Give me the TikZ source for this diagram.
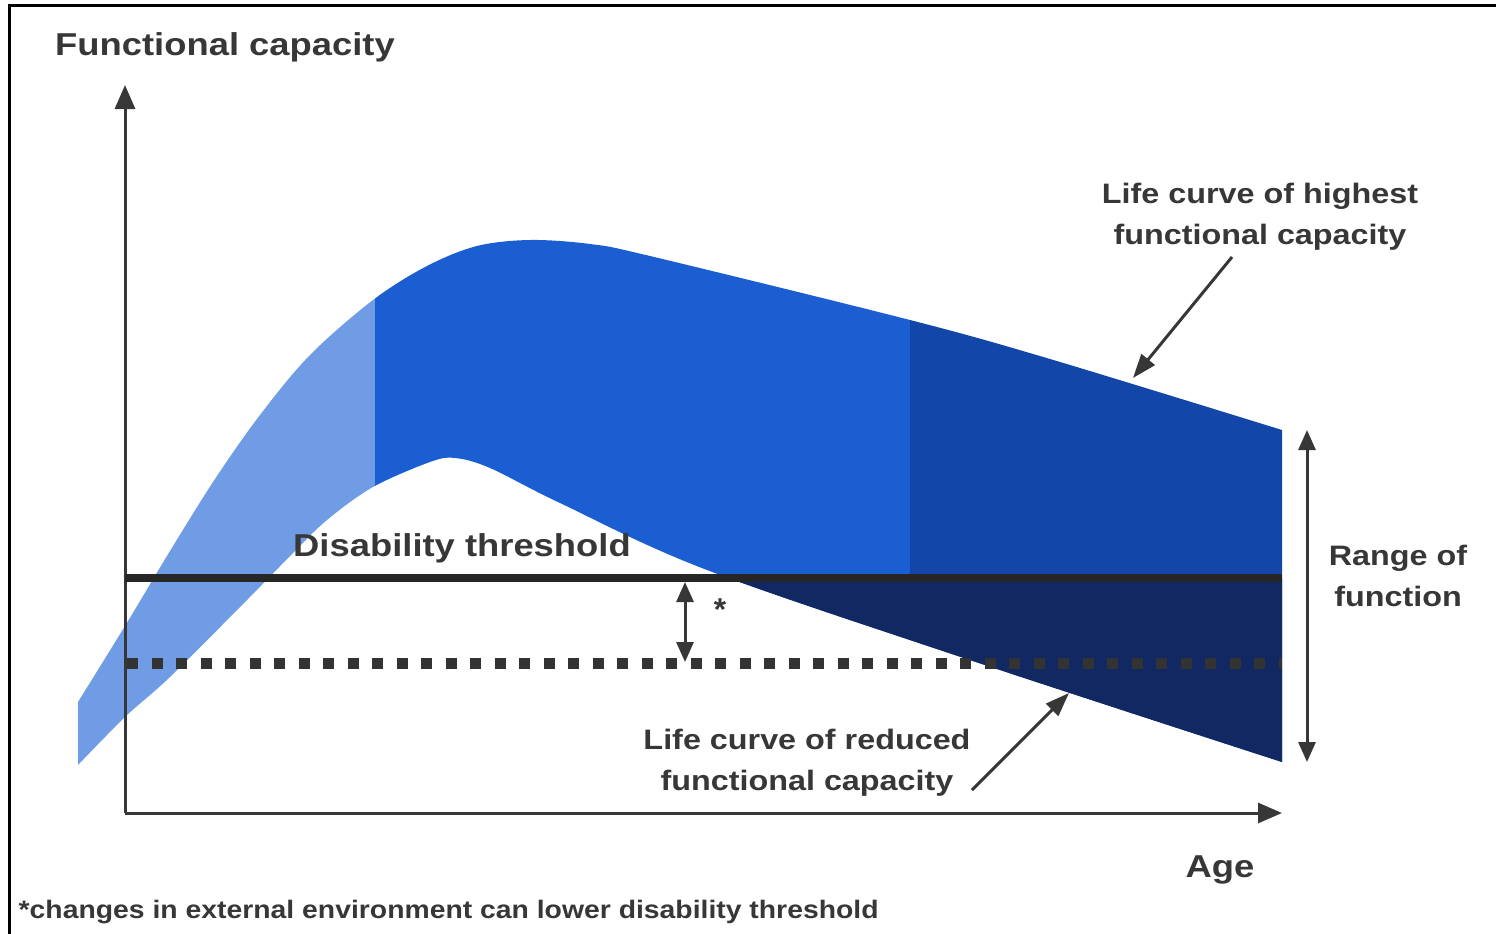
\documentclass[tikz,border=0pt]{standalone}
\usepackage{graphicx}
\usepackage{fontspec}
\setmainfont{Liberation Sans}
\usetikzlibrary{arrows.meta}

\newlength{\du}
\setlength{\du}{0.1mm}
\newcommand{\wide}[1]{\scalebox{1.15}[1]{#1}}

\definecolor{lightband}{RGB}{112,156,230}
\definecolor{midband}{RGB}{26,94,210}
\definecolor{darkband}{RGB}{18,70,168}
\definecolor{navyband}{RGB}{18,40,98}
\definecolor{inkgray}{RGB}{55,55,55}

\tikzset{
  axisline/.style={line width=3\du, draw=inkgray, -{Triangle[length=2.4mm,width=2mm]}},
  pointer/.style={line width=3\du, draw=inkgray, -{Triangle[length=2.4mm,width=1.7mm]}},
  spanline/.style={line width=3\du, draw=inkgray, {Triangle[length=2mm,width=1.7mm]}-{Triangle[length=2mm,width=1.7mm]}},
  bigtext/.style={font=\fontsize{9}{11}\selectfont\bfseries, text=inkgray, inner sep=0pt},
  labeltext/.style={font=\fontsize{8}{11.7}\selectfont\bfseries, text=inkgray, align=center, inner sep=0pt},
  notetext/.style={font=\fontsize{7.2}{9}\selectfont\bfseries, text=inkgray, inner sep=0pt},
}

% outline of the capacity band
\newcommand{\bandpath}{plot[smooth, tension=0.55] coordinates {(78\du,702\du) (125\du,626\du) (170\du,551\du) (215\du,479\du) (260\du,415\du) (310\du,355\du) (373\du,300\du) (427\du,266\du) (477\du,246\du) (530\du,240\du) (590\du,244\du) (650\du,256\du) (910\du,320\du) (1050\du,359\du) (1282\du,430\du)}
  -- plot[smooth, tension=0.55] coordinates {(1282\du,762\du) (979\du,663\du) (707\du,570\du) (560\du,503\du) (490\du,468\du) (455\du,458\du) (430\du,462\du) (373\du,487\du) (327\du,520\du) (293\du,553\du) (247\du,600\du) (170\du,677\du) (125\du,717\du) (78\du,765\du)} -- cycle}

\begin{document}
\begin{tikzpicture}
\pgftransformxscale{1.000000}
\pgftransformyscale{-1.000000}
\useasboundingbox (0\du,0\du) rectangle (1496\du,934\du);
\draw[line width=3\du, black] (9\du,934\du) -- (9\du,5\du) -- (1496\du,5\du);

% band, one colour per age stretch
\begin{scope}
\clip (0\du,0\du) rectangle (375\du,934\du);
\fill[lightband] \bandpath;
\end{scope}
\begin{scope}
\clip (375\du,0\du) rectangle (910\du,934\du);
\fill[midband] \bandpath;
\end{scope}
\begin{scope}
\clip (910\du,0\du) rectangle (1496\du,934\du);
\fill[darkband] \bandpath;
\end{scope}
\begin{scope}
\clip (375\du,578\du) rectangle (1496\du,934\du);
\fill[navyband] \bandpath;
\end{scope}

\coordinate (O) at (125\du,813\du);
\coordinate (ytop) at (125\du,85\du);
\coordinate (xend) at (1282\du,813\du);
\draw[axisline] (O) -- (ytop);
\draw[axisline] (O) -- (xend);

\coordinate (thrL) at (125\du,578\du);
\coordinate (thrR) at (1282\du,578\du);
\draw[line width=8\du, draw=black!85] (thrL) -- (thrR);
\coordinate (lowL) at (127\du,663\du);
\coordinate (lowR) at (1282\du,663\du);
\draw[line width=11\du, draw=black!80, dash pattern=on 11\du off 13.5\du] (lowL) -- (lowR);

\coordinate (drop1) at (685\du,582\du);
\coordinate (drop2) at (685\du,662\du);
\draw[spanline] (drop1) -- (drop2);
\node[font=\fontsize{9}{11}\selectfont\bfseries, text=inkgray, inner sep=0pt] (star) at (720\du,610\du) {*};

\coordinate (rngtop) at (1307\du,430\du);
\coordinate (rngbot) at (1307\du,762\du);
\draw[spanline] (rngtop) -- (rngbot);

\node[bigtext] (ylbl) at (225\du,47\du) {\wide{Functional capacity}};
\node[bigtext] (xlbl) at (1220\du,870\du) {\wide{Age}};
\node[bigtext] (thrlbl) at (462\du,548\du) {\wide{Disability threshold}};
\node[labeltext] (hilbl) at (1260\du,217\du) {\wide{Life curve of highest}\\\wide{functional capacity}};
\node[labeltext] (lolbl) at (807\du,763\du) {\wide{Life curve of reduced}\\\wide{functional capacity}};
\node[labeltext] (rnglbl) at (1398\du,576\du) {\wide{Range of}\\\wide{function}};
\node[notetext, anchor=west] (note) at (18\du,912\du) {\scalebox{1.12}[1]{*changes in external environment can lower disability threshold}};

\coordinate (hitail) at (1232\du,257\du);
\coordinate (hitip) at (1133\du,378\du);
\draw[pointer] (hitail) -- (hitip);
\coordinate (lotail) at (972\du,790\du);
\coordinate (lotip) at (1069\du,693\du);
\draw[pointer] (lotail) -- (lotip);
\end{tikzpicture}
\end{document}
